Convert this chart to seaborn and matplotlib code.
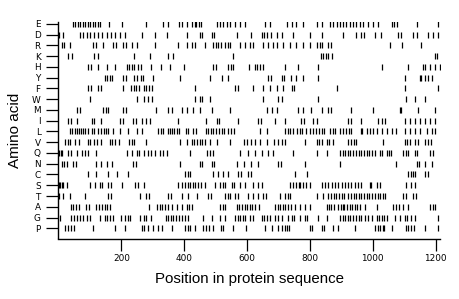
import matplotlib
matplotlib.use("Agg")
import matplotlib.pyplot as plt
import numpy as np
import pandas as pd
import seaborn as sns

# Amino acids, top to bottom as in the chart
amino_acids = ["E", "D", "R", "K", "H", "Y", "F", "W", "M", "I",
               "L", "V", "Q", "N", "C", "S", "T", "A", "G", "P"]

x_ticks = [200, 400, 600, 800, 1000, 1200]
sequence_length = 1215

# Positions (residue numbers) of each amino acid in the sequence
pos_E = [45, 54, 62, 69, 78, 85, 94, 102, 110, 116, 125, 132, 160, 201, 280, 333, 349,
         384, 392, 408, 426, 433, 439, 447, 453, 503, 514, 524, 535, 545, 561, 577, 593,
         657, 673, 726, 742, 757, 779, 821, 837, 863, 874, 885, 895, 906, 916, 927, 938,
         948, 959, 969, 985, 1001, 1017, 1060, 1068, 1076, 1139, 1208]
pos_D = [2, 15, 68, 79, 90, 100, 114, 127, 139, 153, 167, 180, 196, 212, 265, 307, 344,
         408, 450, 457, 487, 495, 567, 614, 646, 655, 665, 676, 694, 712, 747, 800, 837,
         906, 948, 964, 973, 1007, 1026, 1081, 1091, 1128, 1139, 1176, 1192, 1208]
pos_R = [10, 19, 37, 111, 119, 143, 174, 183, 206, 215, 235, 249, 307, 381, 408, 424,
         434, 466, 492, 500, 508, 517, 530, 538, 546, 577, 593, 609, 620, 651, 667, 683,
         694, 715, 736, 757, 779, 800, 824, 832, 839, 858, 867, 1054, 1093, 1153]
pos_K = [31, 42, 114, 127, 241, 291, 349, 365, 556, 835, 842, 850, 858, 869, 1197, 1203]
pos_H = [95, 103, 127, 153, 180, 217, 224, 233, 241, 254, 262, 296, 326, 355, 400, 492,
         500, 540, 548, 556, 607, 625, 633, 642, 650, 720, 763, 826, 1028, 1113, 1160,
         1166, 1181, 1197, 1213]
pos_Y = [148, 156, 163, 169, 206, 214, 241, 249, 262, 270, 302, 386, 482, 519, 540, 667,
         676, 710, 718, 739, 757, 779, 826, 1102, 1150, 1153, 1166, 1176, 1187]
pos_F = [95, 103, 127, 135, 206, 231, 239, 248, 256, 272, 280, 289, 297, 434, 561, 570,
         620, 651, 673, 694, 715, 742, 750, 885, 1102, 1208]
pos_W = [100, 249, 273, 286, 298, 434, 450, 457, 482, 651, 699, 710, 826, 1107, 1134, 1166]
pos_M = [58, 68, 143, 150, 159, 206, 214, 312, 349, 360, 392, 408, 429, 450, 487, 545,
         662, 678, 694, 763, 779, 805, 837, 858, 867, 932, 1001, 1086, 1091, 1144, 1197]
pos_I = [31, 40, 58, 106, 114, 135, 196, 206, 238, 246, 265, 280, 291, 381, 471, 503,
         510, 570, 636, 644, 689, 720, 773, 782, 810, 821, 922, 930, 962, 1017, 1028,
         1038, 1102, 1118, 1134, 1150, 1166, 1181, 1197]
pos_L = [37, 44, 53, 59, 65, 72, 78, 86, 95, 108, 114, 127, 135, 144, 152, 159, 174, 196,
         222, 249, 265, 318, 326, 334, 349, 356, 362, 368, 377, 385, 405, 413, 429, 439,
         468, 477, 485, 493, 502, 510, 519, 527, 540, 549, 557, 641, 662, 720, 729, 737,
         746, 758, 767, 775, 789, 800, 810, 818, 829, 838, 846, 863, 872, 880, 897, 906,
         914, 923, 931, 963, 966, 980, 991, 1001, 1012, 1028, 1044, 1060, 1075, 1102,
         1118, 1134, 1150, 1171, 1187, 1197]
pos_V = [21, 29, 38, 53, 65, 93, 101, 114, 122, 137, 164, 171, 180, 193, 225, 234, 242,
         280, 386, 408, 424, 432, 440, 449, 457, 466, 482, 503, 545, 591, 599, 612, 625,
         641, 665, 686, 699, 712, 722, 784, 821, 828, 837, 853, 860, 874, 922, 930, 939,
         947, 1033, 1102, 1110, 1119, 1134, 1144, 1166, 1174, 1185]
pos_Q = [3, 7, 11, 31, 40, 58, 74, 84, 93, 121, 217, 233, 249, 257, 273, 286, 296, 307,
         323, 333, 344, 418, 474, 483, 491, 577, 604, 625, 646, 667, 683, 747, 821, 853,
         895, 904, 912, 921, 929, 938, 946, 955, 963, 972, 980, 988, 997, 1006, 1022,
         1030, 1044, 1051, 1058, 1097, 1104, 1113, 1134, 1142, 1181, 1192]
pos_N = [10, 19, 27, 47, 56, 121, 137, 153, 169, 238, 246, 386, 450, 457, 487, 496, 567,
         591, 614, 636, 699, 708, 784, 895, 1075, 1139, 1146, 1166, 1187]
pos_C = [95, 121, 159, 185, 222, 402, 411, 418, 492, 508, 524, 540, 572, 580, 604, 612,
         752, 792, 1113, 1120, 1127, 1135, 1166, 1174]
pos_S = [2, 6, 11, 16, 26, 100, 116, 132, 140, 159, 167, 201, 243, 254, 272, 381, 392,
         402, 411, 419, 428, 436, 445, 455, 466, 498, 514, 522, 531, 551, 559, 577, 593,
         620, 636, 646, 736, 747, 757, 765, 768, 779, 789, 800, 837, 848, 858, 869, 879,
         890, 901, 911, 922, 932, 943, 954, 964, 991, 994, 1012, 1022, 1107, 1123, 1134]
pos_T = [2, 15, 37, 84, 159, 167, 259, 280, 289, 349, 358, 392, 413, 440, 477, 485, 530,
         538, 546, 561, 570, 604, 620, 636, 651, 660, 704, 720, 729, 737, 821, 842, 858,
         867, 875, 884, 892, 901, 909, 922, 930, 939, 947, 956, 964, 972, 981, 989, 998,
         1006, 1015, 1023, 1032, 1040, 1097, 1104, 1128, 1136]
pos_A = [39, 47, 56, 64, 87, 98, 121, 130, 138, 147, 155, 164, 288, 314, 323, 331, 340,
         348, 360, 376, 392, 408, 415, 424, 514, 522, 531, 569, 575, 584, 592, 601, 609,
         617, 626, 637, 689, 697, 705, 714, 722, 731, 739, 752, 768, 784, 800, 853, 860,
         868, 875, 890, 898, 905, 909, 917, 926, 934, 943, 951, 960, 975, 1012, 1065,
         1073, 1082, 1097, 1113, 1181, 1190, 1198]
pos_G = [5, 40, 49, 59, 68, 78, 92, 100, 132, 148, 156, 165, 173, 198, 212, 220, 228,
         259, 272, 280, 293, 341, 349, 358, 366, 375, 383, 394, 404, 413, 461, 487, 514,
         530, 561, 570, 578, 587, 595, 609, 620, 646, 655, 663, 672, 689, 697, 710, 731,
         742, 750, 768, 784, 792, 826, 853, 895, 904, 912, 921, 929, 938, 946, 955, 963,
         975, 985, 996, 1012, 1020, 1029, 1037, 1046, 1070, 1086, 1102, 1110, 1123, 1134,
         1208]
pos_P = [21, 31, 40, 49, 109, 180, 212, 265, 273, 286, 302, 318, 328, 360, 402, 411, 419,
         434, 461, 469, 478, 492, 517, 525, 556, 598, 657, 678, 699, 710, 720, 726, 734,
         800, 808, 837, 845, 874, 890, 943, 1007, 1015, 1024, 1032, 1036, 1060, 1107,
         1113, 1123, 1132, 1166, 1208]

positions = {"E": pos_E, "D": pos_D, "R": pos_R, "K": pos_K, "H": pos_H, "Y": pos_Y,
             "F": pos_F, "W": pos_W, "M": pos_M, "I": pos_I, "L": pos_L, "V": pos_V,
             "Q": pos_Q, "N": pos_N, "C": pos_C, "S": pos_S, "T": pos_T, "A": pos_A,
             "G": pos_G, "P": pos_P}

order_bottom_up = amino_acids[::-1]
row_index = {aa: i for i, aa in enumerate(order_bottom_up)}

records = []
for aa in amino_acids:
    for p in positions[aa]:
        records.append({"position": p, "amino_acid": aa, "row": row_index[aa]})
df = pd.DataFrame(records)

sns.set_style("ticks")
plt.rcParams["font.family"] = ["DejaVu Sans"]

fig = plt.figure(figsize=(4.6, 2.99), dpi=100)
ax = fig.add_axes([58.4 / 460, 60.5 / 299, (440.4 - 58.4) / 460, (238.5 - 21.7) / 299])

sns.scatterplot(data=df, x="position", y="row", marker="|", s=19, linewidth=0.9,
                color="black", edgecolor="black", legend=False, ax=ax)

ax.set_xlim(0, sequence_length)
ax.set_ylim(-0.95, 19.2)
ax.set_xticks(x_ticks)
ax.set_xticklabels([str(t) for t in x_ticks])
ax.set_yticks(range(len(order_bottom_up)))
ax.set_yticklabels(order_bottom_up)

ax.tick_params(axis="both", direction="out", length=8.3, width=0.9, color="black",
               labelsize=6.4, labelcolor="black")
ax.tick_params(axis="x", pad=3.2)
ax.tick_params(axis="y", pad=4.5)

ax.set_xlabel("Position in protein sequence", fontsize=10.8, family=["Liberation Sans"],
              color="black", labelpad=6)
ax.set_ylabel("Amino acid", fontsize=11, family=["Liberation Sans"], color="black",
              labelpad=7)

sns.despine(ax=ax)
for side in ("left", "bottom"):
    ax.spines[side].set_linewidth(1.0)
    ax.spines[side].set_color("black")

fig.savefig("out.png", dpi=100)
